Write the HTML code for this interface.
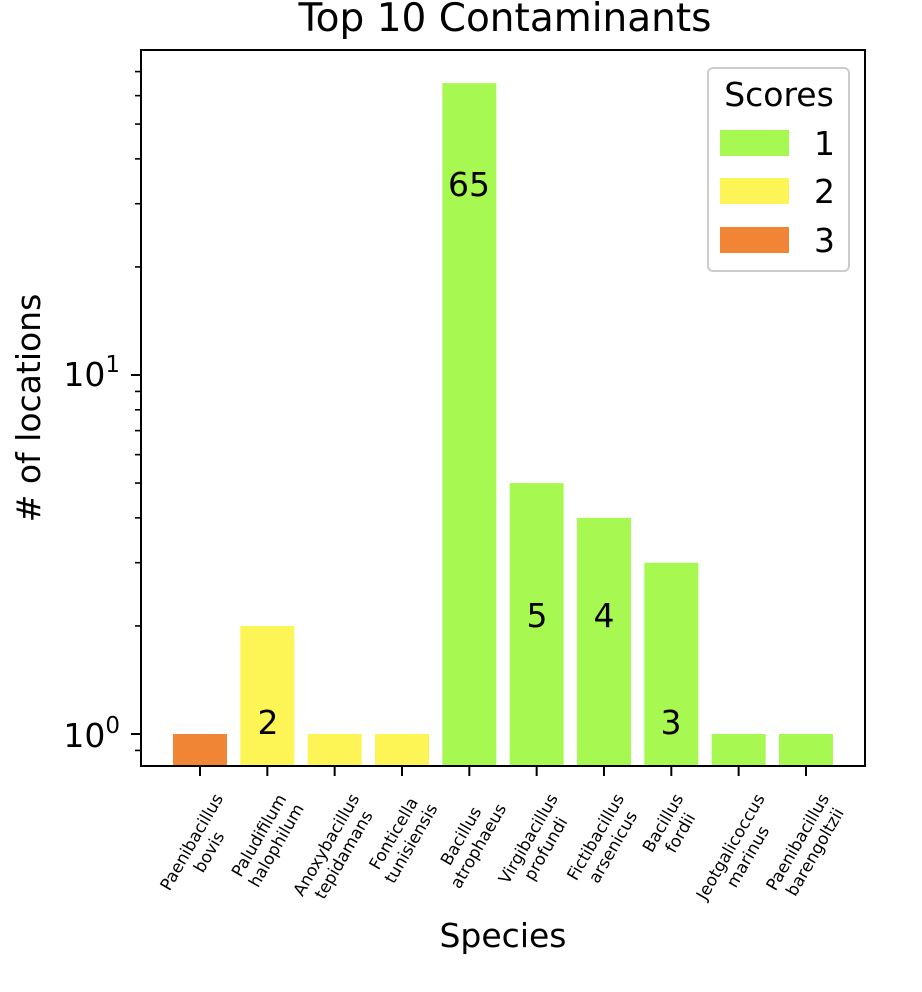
<!DOCTYPE html>
<html><head><meta charset="utf-8"><style>
html,body{margin:0;padding:0;background:#fff;}
svg{display:block;font-family:"DejaVu Sans","Liberation Sans",sans-serif;}
</style></head><body>
<svg id="s" width="922" height="992" viewBox="0 0 922 992" xmlns="http://www.w3.org/2000/svg">
<rect width="922" height="992" fill="#fff"/>
<g id="bars"></g>
<g id="ticks" stroke="#000" stroke-width="2"></g>
<rect x="141" y="50" width="724" height="716" fill="none" stroke="#000" stroke-width="2"/>
<text x="505" y="31" font-size="39" text-anchor="middle">Top 10 Contaminants</text>
<text x="503" y="947" font-size="33" text-anchor="middle">Species</text>
<text transform="translate(40,408) rotate(-90)" font-size="33" text-anchor="middle"># of locations</text>
<text x="120" y="386" font-size="33" text-anchor="end">10<tspan dy="-14" font-size="23">1</tspan></text>
<text x="120" y="747" font-size="33" text-anchor="end">10<tspan dy="-14" font-size="23">0</tspan></text>
<g font-size="33" text-anchor="middle">
<text x="469" y="196">65</text>
<text x="537" y="627">5</text>
<text x="604" y="627">4</text>
<text x="671" y="734">3</text>
<text x="268" y="734">2</text>
</g>
<g>
<rect x="708" y="68" width="141" height="203" rx="5" fill="#fff" fill-opacity="0.8" stroke="#ccc" stroke-width="2"/>
<text x="779" y="106" font-size="33" text-anchor="middle">Scores</text>
<rect x="720" y="130" width="69" height="26" fill="#a7f850"/>
<rect x="720" y="178" width="69" height="26" fill="#fdf456"/>
<rect x="720" y="227" width="69" height="26" fill="#f08535"/>
<text x="814" y="155" font-size="33">1</text>
<text x="814" y="203" font-size="33">2</text>
<text x="814" y="252" font-size="33">3</text>
</g>
<g id="labels" font-size="16.7"></g>
</svg>
<script>
var ns="http://www.w3.org/2000/svg";
var G="#a7f850",Y="#fdf456",O="#f08535";
var data=[["Paenibacillus","bovis",1,O],["Paludifilum","halophilum",2,Y],["Anoxybacillus","tepidamans",1,Y],["Fonticella","tunisiensis",1,Y],["Bacillus","atrophaeus",65,G],["Virgibacillus","profundi",5,G],["Fictibacillus","arsenicus",4,G],["Bacillus","fordii",3,G],["Jeotgalicoccus","marinus",1,G],["Paenibacillus","barengoltzii",1,G]];
function y(v){return 734-359*Math.log10(v);}
var bars=document.getElementById("bars"),ticks=document.getElementById("ticks"),labs=document.getElementById("labels");
function el(n,a,p){var e=document.createElementNS(ns,n);for(var k in a)e.setAttribute(k,a[k]);p.appendChild(e);return e;}
data.forEach(function(d,i){
 var cx=200+67.33*i;
 el("rect",{x:cx-27,y:y(d[2]),width:54,height:766-y(d[2]),fill:d[3]},bars);
 el("line",{x1:cx,y1:766,x2:cx,y2:776},ticks);
 var g=el("g",{},labs);
 var t1=el("text",{x:0,y:-4,"text-anchor":"middle"},g);t1.textContent=d[0];
 var t2=el("text",{x:0,y:16,"text-anchor":"middle"},g);t2.textContent=d[1];
 g.setAttribute("transform","translate("+cx+",840) rotate(-60)");
 var r=g.getBoundingClientRect();
 var dx=cx-(r.left+r.right)/2, dy=790-r.top;
 g.setAttribute("transform","translate("+(cx+dx)+","+(840+dy)+") rotate(-60)");
});
[1,10].forEach(function(v){el("line",{x1:131,y1:y(v),x2:141,y2:y(v)},ticks);});
[0.9,2,3,4,5,6,7,8,9,20,30,40,50,60,70].forEach(function(v){el("line",{x1:135,y1:y(v),x2:141,y2:y(v),"stroke-width":1.6},ticks);});
</script>
</body></html>
